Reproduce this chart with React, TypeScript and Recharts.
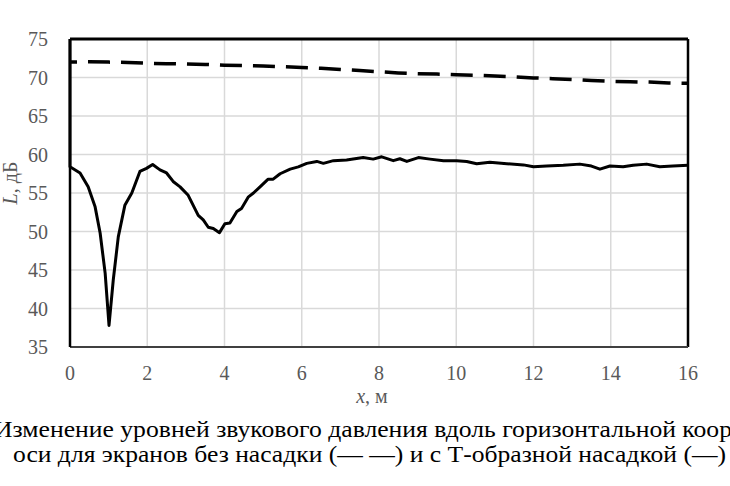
import { LineChart, Line, XAxis, YAxis, CartesianGrid, ReferenceLine } from 'recharts';

// x, m and L, dB
const solidX = [0, 0, 0.26, 0.47, 0.65, 0.78, 0.91, 1.01, 1.12, 1.25, 1.42, 1.6, 1.81, 1.98, 2.14, 2.33, 2.5, 2.67, 2.85, 3.06, 3.19, 3.32, 3.45, 3.58, 3.71, 3.87, 4.01, 4.14, 4.32, 4.44, 4.62, 4.75, 4.92, 5.13, 5.26, 5.44, 5.7, 5.91, 6.13, 6.39, 6.56, 6.82, 7.16, 7.59, 7.85, 8.07, 8.37, 8.54, 8.72, 9.02, 9.32, 9.67, 10.01, 10.27, 10.53, 10.87, 11.31, 11.74, 12.0, 12.34, 12.77, 13.2, 13.5, 13.72, 13.98, 14.32, 14.58, 14.93, 15.27, 15.61, 16];
const solidL = [75, 58.4, 57.6, 55.8, 53.2, 49.8, 44.6, 37.8, 43.7, 49.3, 53.4, 55.0, 57.8, 58.2, 58.7, 58.0, 57.6, 56.5, 55.8, 54.7, 53.4, 52.1, 51.5, 50.55, 50.4, 49.85, 51.0, 51.1, 52.6, 53.0, 54.5, 55.0, 55.8, 56.8, 56.8, 57.5, 58.1, 58.4, 58.85, 59.1, 58.85, 59.2, 59.3, 59.6, 59.4, 59.7, 59.2, 59.45, 59.1, 59.6, 59.4, 59.2, 59.2, 59.1, 58.8, 59.0, 58.8, 58.65, 58.4, 58.5, 58.6, 58.75, 58.5, 58.1, 58.5, 58.4, 58.6, 58.75, 58.4, 58.5, 58.6];

const dashedX = [0, 0.5, 1, 1.5, 2, 2.5, 3, 3.5, 4, 4.5, 5, 5.5, 6, 6.5, 7, 7.5, 8, 8.5, 9, 9.5, 10, 10.5, 11, 11.5, 12, 12.5, 13, 13.5, 14, 14.5, 15, 15.5, 16];
const dashedL = [72.0, 72.05, 72.0, 71.95, 71.85, 71.8, 71.75, 71.7, 71.6, 71.55, 71.5, 71.4, 71.3, 71.2, 71.05, 70.9, 70.75, 70.6, 70.5, 70.45, 70.35, 70.3, 70.2, 70.1, 69.95, 69.85, 69.75, 69.6, 69.5, 69.45, 69.4, 69.3, 69.25];

const xTicks = [0, 2, 4, 6, 8, 10, 12, 14, 16];
const yTicks = [35, 40, 45, 50, 55, 60, 65, 70, 75];

const captionLines = [
  'Изменение уровней звукового давления вдоль горизонтальной коор',
  'оси для экранов без насадки (— —) и с Т-образной насадкой (—)',
];

const solidData = solidX.map((x, i) => ({ x, L: solidL[i] }));
const dashedData = dashedX.map((x, i) => ({ x, L: dashedL[i] }));

const serif = '"Liberation Serif", "Times New Roman", serif';
const tickStyle = { fill: '#595959', fontSize: 20, fontFamily: serif };

export default function App() {
  return (
    <div style={{ position: 'absolute', left: 0, top: 0, width: 730, height: 486, overflow: 'hidden', background: '#fff', fontFamily: serif }}>
      <LineChart width={730} height={420} margin={{ top: 39, right: 42, left: 0, bottom: 43 }} style={{ fontFamily: serif }}>
        <CartesianGrid stroke="#d9d9d9" strokeWidth={1.5} />
        <XAxis
          type="number"
          dataKey="x"
          domain={[0, 16]}
          ticks={xTicks}
          height={30}
          tickLine={false}
          tickSize={0}
          tickMargin={19}
          axisLine={{ stroke: '#404040', strokeWidth: 2 }}
          tick={tickStyle}
          label={{
            content: () => (
              <text x={372} y={403} textAnchor="middle" fill="#595959" fontSize={20} fontFamily={serif}>
                <tspan fontStyle="italic">x</tspan>, м
              </text>
            ),
          }}
        />
        <YAxis
          type="number"
          domain={[35, 75]}
          ticks={yTicks}
          width={70}
          tickLine={false}
          tickSize={0}
          tickMargin={22}
          axisLine={{ stroke: '#000', strokeWidth: 2.5 }}
          tick={tickStyle}
          label={{
            content: () => (
              <text x={17} y={183} transform="rotate(-90 17 183)" textAnchor="middle" fill="#595959" fontSize={20} fontFamily={serif}>
                <tspan fontStyle="italic">L</tspan>, дБ
              </text>
            ),
          }}
        />
        <ReferenceLine y={75} stroke="#000" strokeWidth={3} />
        <ReferenceLine x={16} stroke="#000" strokeWidth={2.5} />
        <Line
          data={dashedData}
          dataKey="L"
          type="linear"
          stroke="#000"
          strokeWidth={3.5}
          strokeDasharray="22 11"
          strokeDashoffset={15}
          dot={false}
          isAnimationActive={false}
        />
        <Line
          data={solidData}
          dataKey="L"
          type="linear"
          stroke="#000"
          strokeWidth={3}
          strokeLinejoin="round"
          dot={false}
          isAnimationActive={false}
        />
      </LineChart>
      <svg width={730} height={486} style={{ position: 'absolute', left: 0, top: 0, pointerEvents: 'none' }}>
        <text x={-6} y={437} fontSize={23} fontFamily={serif} fill="#000" textLength={738} lengthAdjust="spacingAndGlyphs">
          {captionLines[0]}
        </text>
        <text x={13} y={462} fontSize={23} fontFamily={serif} fill="#000" textLength={713} lengthAdjust="spacingAndGlyphs">
          {captionLines[1]}
        </text>
      </svg>
    </div>
  );
}
